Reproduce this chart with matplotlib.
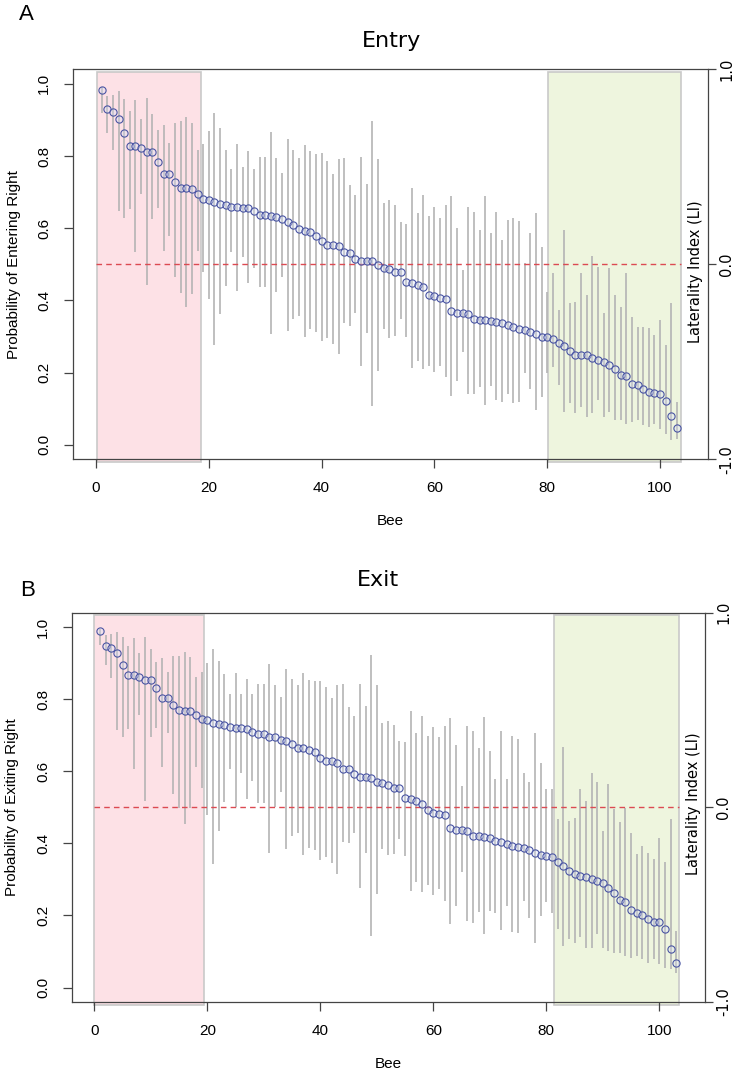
import numpy as np
import matplotlib
matplotlib.use("Agg")
import matplotlib.pyplot as plt
from matplotlib.patches import Rectangle

# ---------------- data ----------------
bee = list(range(1, 104))

entry_p = [0.983, 0.929, 0.922, 0.903, 0.863, 0.829, 0.829, 0.821, 0.812, 0.811,
           0.784, 0.749, 0.749, 0.727, 0.711, 0.711, 0.710, 0.696, 0.682, 0.677,
           0.672, 0.667, 0.663, 0.660, 0.658, 0.657, 0.655, 0.648, 0.638, 0.637,
           0.634, 0.631, 0.625, 0.618, 0.610, 0.597, 0.593, 0.589, 0.579, 0.565,
           0.554, 0.553, 0.551, 0.533, 0.531, 0.516, 0.510, 0.508, 0.508, 0.497,
           0.491, 0.488, 0.479, 0.479, 0.451, 0.448, 0.443, 0.436, 0.416, 0.411,
           0.408, 0.403, 0.370, 0.365, 0.364, 0.362, 0.350, 0.347, 0.346, 0.344,
           0.340, 0.337, 0.332, 0.327, 0.322, 0.318, 0.314, 0.307, 0.300, 0.298,
           0.292, 0.283, 0.274, 0.260, 0.250, 0.249, 0.248, 0.241, 0.235, 0.229,
           0.221, 0.209, 0.193, 0.191, 0.168, 0.166, 0.156, 0.146, 0.143, 0.141,
           0.122, 0.080, 0.048]
entry_hi = [0.990, 0.966, 0.970, 0.980, 0.958, 0.926, 0.954, 0.903, 0.961, 0.917,
            0.873, 0.885, 0.836, 0.892, 0.896, 0.908, 0.892, 0.818, 0.834, 0.868,
            0.918, 0.878, 0.818, 0.765, 0.832, 0.770, 0.813, 0.765, 0.796, 0.796,
            0.866, 0.795, 0.753, 0.847, 0.818, 0.795, 0.831, 0.813, 0.806, 0.807,
            0.785, 0.750, 0.793, 0.795, 0.721, 0.693, 0.797, 0.723, 0.898, 0.793,
            0.670, 0.679, 0.664, 0.617, 0.612, 0.711, 0.642, 0.693, 0.634, 0.660,
            0.628, 0.663, 0.688, 0.602, 0.485, 0.660, 0.646, 0.594, 0.688, 0.586,
            0.646, 0.568, 0.623, 0.628, 0.621, 0.505, 0.586, 0.642, 0.549, 0.424,
            0.475, 0.374, 0.596, 0.394, 0.397, 0.475, 0.415, 0.522, 0.494, 0.364,
            0.489, 0.415, 0.383, 0.475, 0.355, 0.327, 0.327, 0.323, 0.304, 0.346,
            0.277, 0.392, 0.119]
entry_lo = [0.920, 0.864, 0.817, 0.649, 0.628, 0.653, 0.533, 0.695, 0.442, 0.625,
            0.656, 0.538, 0.579, 0.464, 0.422, 0.381, 0.417, 0.538, 0.480, 0.405,
            0.277, 0.362, 0.440, 0.533, 0.426, 0.520, 0.448, 0.490, 0.438, 0.436,
            0.306, 0.424, 0.466, 0.316, 0.348, 0.357, 0.300, 0.320, 0.314, 0.289,
            0.297, 0.279, 0.252, 0.337, 0.330, 0.364, 0.218, 0.309, 0.107, 0.204,
            0.320, 0.297, 0.302, 0.348, 0.300, 0.212, 0.233, 0.209, 0.218, 0.201,
            0.218, 0.189, 0.135, 0.177, 0.258, 0.142, 0.140, 0.161, 0.110, 0.163,
            0.124, 0.119, 0.142, 0.117, 0.119, 0.198, 0.156, 0.096, 0.133, 0.198,
            0.216, 0.166, 0.092, 0.115, 0.087, 0.105, 0.078, 0.087, 0.124, 0.078,
            0.092, 0.068, 0.068, 0.059, 0.064, 0.068, 0.054, 0.050, 0.059, 0.045,
            0.031, 0.013, 0.017]

exit_p = [0.990, 0.948, 0.943, 0.928, 0.895, 0.868, 0.868, 0.862, 0.854, 0.854,
          0.831, 0.803, 0.803, 0.784, 0.770, 0.768, 0.767, 0.756, 0.744, 0.741,
          0.735, 0.730, 0.727, 0.723, 0.721, 0.720, 0.718, 0.709, 0.704, 0.702,
          0.695, 0.695, 0.687, 0.683, 0.675, 0.665, 0.663, 0.659, 0.652, 0.637,
          0.628, 0.627, 0.624, 0.607, 0.606, 0.592, 0.585, 0.583, 0.582, 0.571,
          0.567, 0.561, 0.554, 0.554, 0.526, 0.524, 0.518, 0.510, 0.492, 0.485,
          0.482, 0.478, 0.443, 0.437, 0.436, 0.434, 0.421, 0.419, 0.417, 0.415,
          0.407, 0.403, 0.397, 0.393, 0.391, 0.387, 0.382, 0.374, 0.367, 0.365,
          0.362, 0.347, 0.336, 0.323, 0.314, 0.310, 0.308, 0.302, 0.296, 0.291,
          0.277, 0.263, 0.243, 0.238, 0.214, 0.208, 0.200, 0.189, 0.182, 0.182,
          0.162, 0.106, 0.067]
exit_hi = [0.995, 0.977, 0.980, 0.987, 0.971, 0.946, 0.968, 0.927, 0.971, 0.939,
           0.903, 0.915, 0.874, 0.920, 0.920, 0.931, 0.918, 0.860, 0.874, 0.900,
           0.939, 0.906, 0.869, 0.814, 0.872, 0.814, 0.857, 0.814, 0.842, 0.842,
           0.897, 0.839, 0.805, 0.883, 0.857, 0.839, 0.871, 0.854, 0.849, 0.851,
           0.834, 0.803, 0.839, 0.842, 0.777, 0.754, 0.842, 0.781, 0.923, 0.839,
           0.735, 0.740, 0.729, 0.684, 0.681, 0.767, 0.707, 0.752, 0.698, 0.723,
           0.694, 0.726, 0.747, 0.672, 0.559, 0.724, 0.712, 0.664, 0.749, 0.657,
           0.578, 0.712, 0.578, 0.698, 0.689, 0.596, 0.570, 0.707, 0.624, 0.550,
           0.550, 0.467, 0.666, 0.462, 0.471, 0.552, 0.518, 0.596, 0.570, 0.435,
           0.564, 0.495, 0.458, 0.499, 0.428, 0.370, 0.393, 0.373, 0.356, 0.416,
           0.347, 0.467, 0.157]
exit_lo = [0.950, 0.894, 0.858, 0.715, 0.696, 0.717, 0.606, 0.756, 0.518, 0.694,
           0.721, 0.611, 0.706, 0.537, 0.499, 0.453, 0.497, 0.613, 0.554, 0.478,
           0.342, 0.434, 0.515, 0.607, 0.502, 0.594, 0.522, 0.573, 0.511, 0.513,
           0.373, 0.502, 0.543, 0.385, 0.419, 0.428, 0.367, 0.388, 0.382, 0.354,
           0.362, 0.345, 0.314, 0.405, 0.400, 0.428, 0.275, 0.374, 0.143, 0.259,
           0.385, 0.367, 0.370, 0.411, 0.365, 0.268, 0.293, 0.265, 0.284, 0.256,
           0.273, 0.240, 0.177, 0.226, 0.321, 0.185, 0.180, 0.210, 0.148, 0.213,
           0.208, 0.160, 0.226, 0.154, 0.152, 0.240, 0.194, 0.125, 0.199, 0.236,
           0.208, 0.162, 0.115, 0.134, 0.125, 0.139, 0.111, 0.111, 0.148, 0.111,
           0.102, 0.097, 0.097, 0.088, 0.083, 0.088, 0.078, 0.069, 0.078, 0.065,
           0.055, 0.051, 0.041]

# highlighted groups (bee index ranges)
entry_right_group = (0.1, 18.6)
entry_left_group = (80.1, 103.7)
exit_right_group = (0.0, 19.5)
exit_left_group = (81.3, 103.5)

x_ticks = [0, 20, 40, 60, 80, 100]
y_ticks = [0.0, 0.2, 0.4, 0.6, 0.8, 1.0]
li_ticks = [-1.0, 0.0, 1.0]

# ---------------- style ----------------
SANS = ["Liberation Sans", "DejaVu Sans"]
VER = ["DejaVu Sans"]
PINK = "#fde1e6"
GREEN = "#eef5de"
BORDER = "#c9c9c9"
PT_EDGE = "#4a55a3"
ERR = "#b4b4b4"
RED = "#dc4a52"
AXC = "#444444"

fig = plt.figure(figsize=(7.36, 10.75), dpi=100)


def panel(rect, xlim, p, lo, hi, g1, g2, ylabel, title, letter, letter_xy, title_xy, li_y):
    ax = fig.add_axes(rect)
    ax.set_xlim(*xlim)
    ax.set_ylim(-0.04, 1.04)
    for (a, b), c in ((g1, PINK), (g2, GREEN)):
        ax.add_patch(Rectangle((a, -0.047), b - a, 1.079, facecolor=c,
                               edgecolor=BORDER, linewidth=1.2, zorder=1, clip_on=False))
    ax.vlines(bee, lo, hi, colors=ERR, linewidth=1.2, zorder=2)
    ax.plot([0, g2[1]], [0.5, 0.5], color=RED, linestyle=(0, (4, 3)), linewidth=1.0, zorder=3)
    ax.plot(bee, p, linestyle="none", marker="o", markersize=5.2,
            markerfacecolor=(0.85, 0.88, 0.97, 0.35), markeredgecolor=PT_EDGE,
            markeredgewidth=0.8, zorder=4)
    for s in ax.spines.values():
        s.set_color(AXC)
        s.set_linewidth(0.9)
        s.set_zorder(5)
    ax.set_xticks(x_ticks)
    ax.set_yticks(y_ticks)
    ax.set_yticklabels([f"{v:.1f}" for v in y_ticks], rotation=90, va="center",
                       family=SANS, fontsize=11)
    ax.set_xticklabels([str(v) for v in x_ticks], family=SANS, fontsize=11)
    ax.tick_params(axis="both", direction="out", length=6.5, width=0.9, color=AXC, pad=9)
    ax.set_xlabel("Bee", family=SANS, fontsize=11, labelpad=14)
    ax.set_ylabel(ylabel, family=SANS, fontsize=11, labelpad=12)
    ax2 = ax.twinx()
    ax2.set_ylim(-1, 1)
    ax2.set_yticks(li_ticks)
    ax2.set_yticklabels([f"{v:.1f}" for v in li_ticks], rotation=90, va="center",
                        family=VER, fontsize=10.5)
    ax2.tick_params(axis="y", direction="out", length=5.5, width=0.9, color=AXC, pad=2.5)
    for s in ax2.spines.values():
        s.set_visible(False)
    ax.text(0.981, li_y, "Laterality Index (LI)", transform=ax.transAxes, rotation=90,
            ha="center", va="center", family=VER, fontsize=10.5, zorder=6)
    fig.text(title_xy[0], title_xy[1], title, ha="center", va="center",
             family=VER, fontsize=16)
    fig.text(letter_xy[0], letter_xy[1], letter, ha="left", va="center",
             family=SANS, fontsize=16)
    return ax


panel([0.0988, 0.5727, 0.8632, 0.3628], (-4.12, 108.5), entry_p, entry_lo, entry_hi,
      entry_right_group, entry_left_group, "Probability of Entering Right", "Entry", "A",
      (0.026, 1 - 14 / 1075), (0.532, 1 - 41 / 1075), 0.48)
panel([0.0974, 0.0679, 0.8606, 0.3623], (-4.0, 108.1), exit_p, exit_lo, exit_hi,
      exit_right_group, exit_left_group, "Probability of Exiting Right", "Exit", "B",
      (0.028, 1 - 590 / 1075), (0.513, 1 - 580 / 1075), 0.51)

fig.savefig("out.png", dpi=100)
